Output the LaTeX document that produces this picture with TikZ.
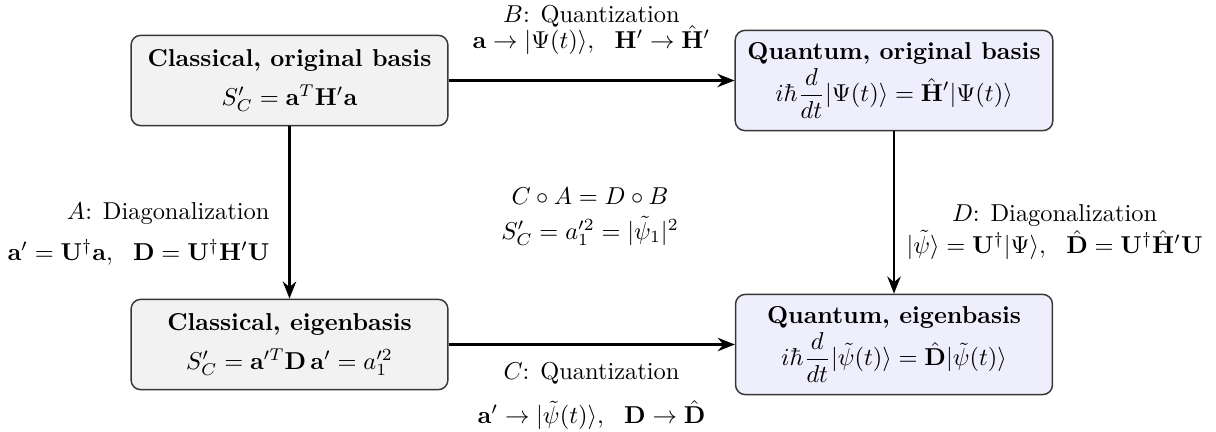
\documentclass[tikz,border=0pt]{standalone}
\usetikzlibrary{arrows.meta}
\definecolor{cfill}{RGB}{242,242,242}
\definecolor{qfill}{RGB}{238,238,252}
\definecolor{bord}{RGB}{55,55,55}
\begin{document}
\begin{tikzpicture}[x=0.014393cm, y=-0.014393cm,
  box/.style={draw=bord, line width=0.6pt, rounded corners=4pt,
    minimum width=4.56cm, minimum height=1.3cm, align=center, inner sep=5pt},
  cbox/.style={box, fill=cfill},
  qbox/.style={box, fill=qfill},
  conn/.style={-{Stealth[length=7pt,width=5.5pt]}, line width=0.9pt},
  lab/.style={align=center, inner sep=0pt}]
\useasboundingbox (0,0) rectangle (1216,431);

\node[cbox] (c1) at (289.5,80.5) {\textbf{Classical, original basis}\\[4pt] $S'_C = \mathbf{a}^T\mathbf{H}'\mathbf{a}$};
\node[qbox] (q1) at (894,80.5) {\textbf{Quantum, original basis}\\[0.5pt] $\displaystyle i\hbar\frac{d}{dt}|\Psi(t)\rangle = \hat{\mathbf{H}}'|\Psi(t)\rangle$};
\node[cbox] (c2) at (289.5,344.5) {\textbf{Classical, eigenbasis}\\[4pt] $S'_C = \mathbf{a}'^T\mathbf{D}\,\mathbf{a}' = a'^2_1$};
\node[qbox] (q2) at (894,344.5) {\textbf{Quantum, eigenbasis}\\[0.5pt] $\displaystyle i\hbar\frac{d}{dt}|\tilde\psi(t)\rangle = \hat{\mathbf{D}}|\tilde\psi(t)\rangle$};

\draw[conn] (c1) -- (q1);
\draw[conn] (c1) -- (c2);
\draw[conn] (q1) -- (q2);
\draw[conn] (c2) -- (q2);

\node[lab] (lb) at (591.5,30) {$B$: Quantization\\[-1.5pt] $\mathbf{a}\to|\Psi(t)\rangle,\ \ \mathbf{H}'\to\hat{\mathbf{H}}'$};
\node[lab] (lc) at (591.5,396) {$C$: Quantization\\[6pt] $\mathbf{a}'\to|\tilde\psi(t)\rangle,\ \ \mathbf{D}\to\hat{\mathbf{D}}$};
\node[lab] (lm) at (590,217) {$C\circ A = D\circ B$\\[2pt] $S'_C = a'^2_1 = |\tilde\psi_1|^2$};
\node[lab, align=right, anchor=east] (la) at (270,234) {$A$: Diagonalization\\[4.5pt] $\mathbf{a}' = \mathbf{U}^\dagger\mathbf{a},\ \ \mathbf{D} = \mathbf{U}^\dagger\mathbf{H}'\mathbf{U}$};
\node[lab, anchor=west] (ld) at (906,232) {$D$: Diagonalization\\[1pt] $|\tilde\psi\rangle = \mathbf{U}^\dagger|\Psi\rangle,\ \ \hat{\mathbf{D}} = \mathbf{U}^\dagger\hat{\mathbf{H}}'\mathbf{U}$};
\end{tikzpicture}
\end{document}
